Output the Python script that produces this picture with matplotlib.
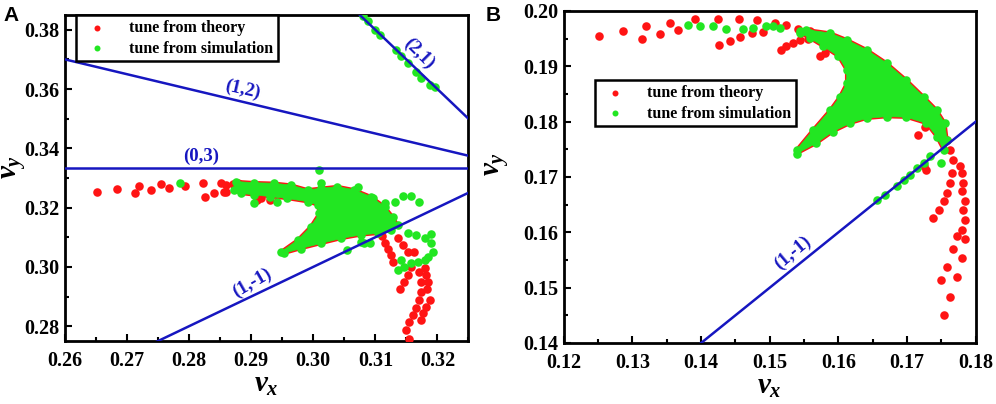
import numpy as np
import matplotlib
matplotlib.use('Agg')
import matplotlib.pyplot as plt
from matplotlib.ticker import MultipleLocator, FormatStrFormatter

plt.rcParams['font.family'] = ['Liberation Serif', 'DejaVu Serif']
plt.rcParams['font.weight'] = 'bold'
plt.rcParams['mathtext.fontset'] = 'custom'
plt.rcParams['mathtext.it'] = 'Liberation Serif:italic:bold'
plt.rcParams['mathtext.rm'] = 'Liberation Serif:bold'

RED = '#ff1414'
GREEN = '#22e622'
BLUE = '#1616c0'

# ---------------- panel A data ----------------
# resonance lines  m*vx + n*vy = p
res_a = [(0, 3, 1), (1, 2, 1), (2, 1, 1), (1, -1, 0)]
res_a_labels = ['(0,3)', '(1,2)', '(2,1)', '(1,-1)']
res_a_lab_x = [0.2820, 0.2886, 0.3171, 0.2902]
res_a_lab_y = [0.3372, 0.3597, 0.3721, 0.2945]
res_a_lab_rot = [0, -13, -45, 30]

theory_a_x = [0.2651, 0.2684, 0.2713, 0.2719, 0.2739, 0.2754, 0.2767, 0.2794, 0.2823, 0.2825,
              0.2840, 0.2851, 0.2856, 0.2859, 0.2859, 0.2870, 0.2879, 0.2910, 0.2915, 0.2931,
              0.3115, 0.3120, 0.3126, 0.3128, 0.3136, 0.3145, 0.3153, 0.3163, 0.3158, 0.3153,
              0.3146, 0.3139, 0.3180, 0.3182, 0.3185, 0.3184, 0.3188, 0.3182, 0.3177, 0.3174,
              0.3171, 0.3174, 0.3174, 0.3171, 0.3166, 0.3161, 0.3155, 0.3150, 0.3155, 0.3110]
theory_a_y = [0.3254, 0.3263, 0.3248, 0.3273, 0.3260, 0.3280, 0.3265, 0.3273, 0.3284, 0.3237,
              0.3248, 0.3284, 0.3254, 0.3276, 0.3254, 0.3279, 0.3282, 0.3226, 0.3231, 0.3226,
              0.3079, 0.3059, 0.3040, 0.3017, 0.3096, 0.3074, 0.3051, 0.3051, 0.3000, 0.2972,
              0.2950, 0.2927, 0.2995, 0.2972, 0.2950, 0.2927, 0.2888, 0.2865, 0.2843, 0.2820,
              0.2984, 0.2950, 0.2916, 0.2888, 0.2860, 0.2837, 0.2815, 0.2787, 0.2758, 0.3105]

sim_a_x = [0.3080, 0.3088, 0.3099, 0.3107, 0.3134, 0.3142, 0.3152, 0.3166, 0.3174, 0.3188,
           0.3196, 0.3010, 0.3012, 0.2786, 0.3072, 0.3096, 0.3115, 0.3131, 0.3144, 0.3158,
           0.3171, 0.2942, 0.2905, 0.3055, 0.3082, 0.3153, 0.3166, 0.3180, 0.3190, 0.3190,
           0.3193, 0.3185, 0.3136, 0.3147, 0.3158, 0.3169, 0.3180, 0.3142, 0.3091, 0.3077]
sim_a_y = [0.3845, 0.3828, 0.3800, 0.3783, 0.3732, 0.3712, 0.3687, 0.3659, 0.3637, 0.3614,
           0.3606, 0.3327, 0.3282, 0.3284, 0.3271, 0.3231, 0.3214, 0.3220, 0.3239, 0.3239,
           0.3218, 0.3220, 0.3214, 0.3057, 0.3079, 0.3113, 0.3107, 0.3096, 0.3111, 0.3079,
           0.3051, 0.3034, 0.2989, 0.3000, 0.3012, 0.3017, 0.3023, 0.3023, 0.3079, 0.3085]

# outline of the dense tune footprint
blob_a_x = [0.2948, 0.2975, 0.2996, 0.3010, 0.3007, 0.2991, 0.2958, 0.2931, 0.2905, 0.2883,
            0.2872, 0.2875, 0.2905, 0.2937, 0.2964, 0.2991, 0.3012, 0.3039, 0.3066, 0.3093,
            0.3115, 0.3128, 0.3136, 0.3126, 0.3104, 0.3077, 0.3045, 0.3012, 0.2980, 0.2953]
blob_a_y = [0.3051, 0.3091, 0.3136, 0.3181, 0.3209, 0.3220, 0.3231, 0.3237, 0.3243, 0.3248,
            0.3260, 0.3288, 0.3284, 0.3282, 0.3276, 0.3260, 0.3265, 0.3271, 0.3260, 0.3237,
            0.3203, 0.3169, 0.3141, 0.3124, 0.3113, 0.3108, 0.3096, 0.3079, 0.3062, 0.3046]

# ---------------- panel B data ----------------
res_b = [(1, -1, 0)]
res_b_labels = ['(1,-1)']
res_b_lab_x = [0.1533]
res_b_lab_y = [0.1563]
res_b_lab_rot = [40]

theory_b_x = [0.1252, 0.1286, 0.1314, 0.1320, 0.1340, 0.1355, 0.1367, 0.1391, 0.1425, 0.1426,
              0.1442, 0.1455, 0.1457, 0.1474, 0.1481, 0.1490, 0.1507, 0.1516, 0.1524, 0.1534,
              0.1544, 0.1556, 0.1573, 0.1580, 0.1524, 0.1541, 0.1558, 0.1573, 0.1588,
              0.1716, 0.1726, 0.1758, 0.1763, 0.1767, 0.1765, 0.1763, 0.1758, 0.1753, 0.1746,
              0.1738, 0.1777, 0.1780, 0.1782, 0.1780, 0.1784, 0.1782, 0.1784, 0.1780, 0.1772,
              0.1784, 0.1767, 0.1780, 0.1758, 0.1772, 0.1750, 0.1763, 0.1753, 0.1728, 0.1724]
theory_b_y = [0.1954, 0.1964, 0.1949, 0.1972, 0.1958, 0.1979, 0.1966, 0.1986, 0.1986, 0.1939,
              0.1946, 0.1986, 0.1952, 0.1960, 0.1984, 0.1961, 0.1979, 0.1930, 0.1936, 0.1942,
              0.1948, 0.1949, 0.1918, 0.1924, 0.1975, 0.1967, 0.1963, 0.1957, 0.1951,
              0.1776, 0.1791, 0.1767, 0.1749, 0.1731, 0.1707, 0.1689, 0.1671, 0.1656, 0.1641,
              0.1626, 0.1719, 0.1707, 0.1689, 0.1674, 0.1656, 0.1641, 0.1623, 0.1605, 0.1593,
              0.1587, 0.1569, 0.1553, 0.1538, 0.1520, 0.1514, 0.1484, 0.1451, 0.1713, 0.1719]

sim_b_x = [0.1381, 0.1398, 0.1417, 0.1437, 0.1461, 0.1476, 0.1495, 0.1505, 0.1515, 0.1544,
           0.1558, 0.1568, 0.1583, 0.1656, 0.1668, 0.1685, 0.1695, 0.1704, 0.1714, 0.1724,
           0.1733, 0.1750]
sim_b_y = [0.1975, 0.1973, 0.1972, 0.1967, 0.1967, 0.1969, 0.1973, 0.1972, 0.1969, 0.1963,
           0.1960, 0.1955, 0.1948, 0.1659, 0.1668, 0.1683, 0.1695, 0.1704, 0.1716, 0.1725,
           0.1737, 0.1725]

blob_b_x = [0.1539, 0.1568, 0.1592, 0.1617, 0.1641, 0.1670, 0.1699, 0.1728, 0.1743, 0.1753,
            0.1758, 0.1755, 0.1743, 0.1724, 0.1699, 0.1670, 0.1641, 0.1612, 0.1588, 0.1553,
            0.1544, 0.1558, 0.1578, 0.1600, 0.1612, 0.1612, 0.1602, 0.1588, 0.1563, 0.1539]
blob_b_y = [0.1742, 0.1761, 0.1782, 0.1797, 0.1806, 0.1809, 0.1808, 0.1797, 0.1773, 0.1749,
            0.1767, 0.1797, 0.1821, 0.1845, 0.1875, 0.1906, 0.1930, 0.1948, 0.1960, 0.1966,
            0.1960, 0.1951, 0.1936, 0.1918, 0.1893, 0.1869, 0.1845, 0.1821, 0.1785, 0.1749]

MS = 38


def draw_panel(ax, xlim, ylim, xstep, ystep, res, labels, lx, ly, lrot,
               tx, ty, sx, sy, bx, by):
    ax.set_xlim(*xlim)
    ax.set_ylim(*ylim)
    # dense footprint: theory underneath, simulation on top
    ax.fill(bx, by, facecolor=RED, edgecolor=RED, lw=2.5, zorder=2)
    ax.scatter(tx, ty, s=MS, color=RED, lw=0, zorder=3, label='tune from theory')
    ax.fill(bx, by, facecolor=GREEN, edgecolor=GREEN, lw=0.5, zorder=4)
    ax.scatter(bx, by, s=MS, color=GREEN, lw=0, zorder=4)
    ax.scatter(sx, sy, s=MS, color=GREEN, lw=0, zorder=5, label='tune from simulation')

    xs = np.array(xlim)
    for (m, n, p), lab, x, y, r in zip(res, labels, lx, ly, lrot):
        if n == 0:
            ax.axvline(p / m, color=BLUE, lw=1.8, zorder=6)
        else:
            ax.plot(xs, (p - m * xs) / n, color=BLUE, lw=1.8, zorder=6)
        ax.text(x, y, lab, color=BLUE, fontsize=13.5, fontweight='bold',
                rotation=r, ha='center', va='center', zorder=7)

    ax.xaxis.set_major_locator(MultipleLocator(xstep))
    ax.xaxis.set_minor_locator(MultipleLocator(xstep / 2))
    ax.yaxis.set_major_locator(MultipleLocator(ystep))
    ax.yaxis.set_minor_locator(MultipleLocator(ystep / 2))
    ax.xaxis.set_major_formatter(FormatStrFormatter('%.2f'))
    ax.yaxis.set_major_formatter(FormatStrFormatter('%.2f'))
    ax.tick_params(which='both', direction='in', width=1.5, labelsize=14.5)
    ax.tick_params(axis='x', pad=7)
    ax.tick_params(axis='y', pad=4)
    ax.tick_params(which='major', length=5)
    ax.tick_params(which='minor', length=3)
    for sp in ax.spines.values():
        sp.set_linewidth(2)
    ax.set_xlabel(r'$\nu_x$', fontsize=21, labelpad=1)
    ax.set_ylabel(r'$\nu_y$', fontsize=21)


fig = plt.figure(figsize=(9.96, 4.04), dpi=100)
ax_a = fig.add_axes([0.0653, 0.156, 0.405, 0.807])
ax_b = fig.add_axes([0.566, 0.151, 0.4137, 0.822])

draw_panel(ax_a, (0.26, 0.325), (0.275, 0.385), 0.01, 0.02,
           res_a, res_a_labels, res_a_lab_x, res_a_lab_y, res_a_lab_rot,
           theory_a_x, theory_a_y, sim_a_x, sim_a_y, blob_a_x, blob_a_y)
draw_panel(ax_b, (0.12, 0.18), (0.14, 0.20), 0.01, 0.01,
           res_b, res_b_labels, res_b_lab_x, res_b_lab_y, res_b_lab_rot,
           theory_b_x, theory_b_y, sim_b_x, sim_b_y, blob_b_x, blob_b_y)
ax_a.yaxis.set_label_coords(-0.092, 0.535)
ax_b.yaxis.set_label_coords(-0.128, 0.54)

for ax, anchor in [(ax_a, (0.027, 1.0)), (ax_b, (0.075, 0.792))]:
    leg = ax.legend(loc='upper left', bbox_to_anchor=anchor, fancybox=False,
                    framealpha=1, edgecolor='black', borderaxespad=0,
                    prop={'family': 'Liberation Serif', 'weight': 'bold', 'size': 11.5},
                    handletextpad=1.0, markerscale=0.7, borderpad=0.3, labelspacing=0.3)
    leg.get_frame().set_linewidth(1.8)
    leg.set_zorder(10)

fig.text(0.004, 0.985, 'A', fontsize=15, fontweight='bold', family='Liberation Sans',
         ha='left', va='top')
fig.text(0.488, 0.985, 'B', fontsize=15, fontweight='bold', family='Liberation Sans',
         ha='left', va='top')

fig.savefig('out.png', dpi=100)
